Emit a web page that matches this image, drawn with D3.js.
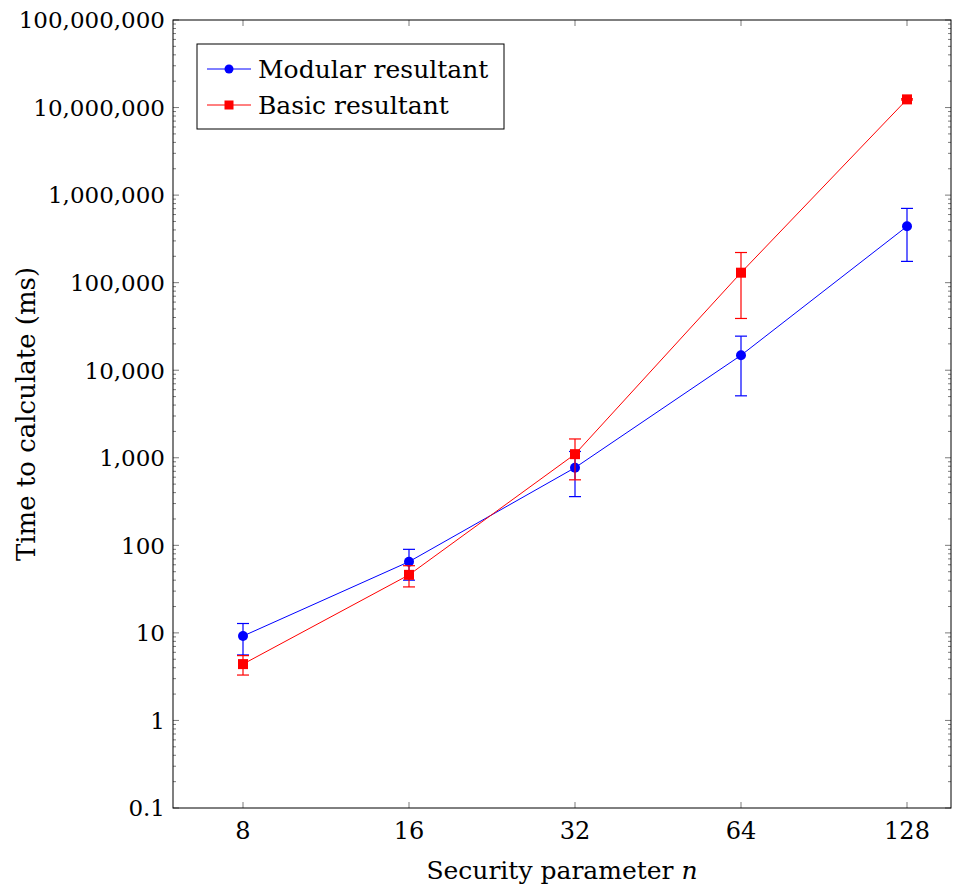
<html>
<head>
<style>
  body { margin: 0; background: #fff; }
  text { font-family: "DejaVu Serif", serif; }
</style>
<script src="https://d3js.org/d3.v7.min.js"></script>
</head>
<body>
<svg width="954" height="888"></svg>
<script>
// values
const nValues = [8, 16, 32, 64, 128];
const modularMean = [9.2, 65, 770, 14800, 440000];
const modularErr = [3.6, 25, 410, 9700, 265000];
const basicMean = [4.4, 46, 1100, 130000, 12400000];
const basicErr = [1.1, 12.5, 540, 91000, 200000];
const yTicks = [0.1, 1, 10, 100, 1000, 10000, 100000, 1000000, 10000000, 100000000];

const plotL = 173, plotR = 951, plotT = 20, plotB = 808;

const svg = d3.select("svg");

// x is log2, with a bit of padding round 8 .. 128
const x = d3.scaleLog().base(2)
    .domain([8 / Math.pow(2, 70 / 166), 128 * Math.pow(2, 44 / 166)])
    .range([plotL, plotR]);

const y = d3.scaleLog()
    .domain([0.1, 1e8])
    .range([plotB, plotT]);

const fmt = d3.format(",");

// minor ticks for log y
let minor = [];
for (let e = -1; e < 8; e++) {
    for (let k = 2; k <= 9; k++) minor.push(k * Math.pow(10, e));
}

const ticks = svg.append("g").attr("stroke", "#444").attr("stroke-width", 0.7);
ticks.selectAll(".ymaj").data(yTicks).join("g")
    .call(g => g.append("line").attr("x1", plotL).attr("x2", plotL + 6).attr("y1", d => y(d)).attr("y2", d => y(d)))
    .call(g => g.append("line").attr("x1", plotR).attr("x2", plotR - 6).attr("y1", d => y(d)).attr("y2", d => y(d)));
ticks.selectAll(".ymin").data(minor).join("g")
    .call(g => g.append("line").attr("x1", plotL).attr("x2", plotL + 3).attr("y1", d => y(d)).attr("y2", d => y(d)))
    .call(g => g.append("line").attr("x1", plotR).attr("x2", plotR - 3).attr("y1", d => y(d)).attr("y2", d => y(d)));
ticks.selectAll(".xmaj").data(nValues).join("g")
    .call(g => g.append("line").attr("x1", d => x(d)).attr("x2", d => x(d)).attr("y1", plotB).attr("y2", plotB - 6))
    .call(g => g.append("line").attr("x1", d => x(d)).attr("x2", d => x(d)).attr("y1", plotT).attr("y2", plotT + 6));

// frame
svg.append("rect")
    .attr("x", plotL).attr("y", plotT)
    .attr("width", plotR - plotL).attr("height", plotB - plotT)
    .attr("fill", "none").attr("stroke", "#000").attr("stroke-width", 1);

// tick labels
svg.append("g").selectAll("text").data(yTicks).join("text")
    .attr("x", plotL - 8)
    .attr("y", d => y(d))
    .attr("dy", "0.36em")
    .attr("text-anchor", "end")
    .attr("font-size", 23)
    .text(d => fmt(d));

svg.append("g").selectAll("text").data(nValues).join("text")
    .attr("x", d => x(d))
    .attr("y", plotB + 31)
    .attr("text-anchor", "middle")
    .attr("font-size", 24)
    .text(d => d);

// axis titles
const xt = svg.append("text")
    .attr("x", (plotL + plotR) / 2)
    .attr("y", 879)
    .attr("text-anchor", "middle")
    .attr("font-size", 25);
xt.append("tspan").text("Security parameter ");
xt.append("tspan").attr("font-style", "italic").text("n");

svg.append("text")
    .attr("transform", `translate(35,${(plotT + plotB) / 2}) rotate(-90)`)
    .attr("text-anchor", "middle")
    .attr("font-size", 26)
    .text("Time to calculate (ms)");

// series
const series = [
    { name: "Modular resultant", color: "#0000ff", mean: modularMean, err: modularErr, shape: "circle" },
    { name: "Basic resultant", color: "#ff0000", mean: basicMean, err: basicErr, shape: "square" }
];

const line = d3.line().x(d => x(d.n)).y(d => y(d.v));

series.forEach(s => {
    const pts = nValues.map((n, i) => ({ n: n, v: s.mean[i], e: s.err[i] }));
    const g = svg.append("g");

    g.append("path")
        .attr("d", line(pts))
        .attr("fill", "none")
        .attr("stroke", s.color)
        .attr("stroke-width", 1);

    const eb = g.append("g").attr("stroke", s.color).attr("stroke-width", 1.2);
    eb.selectAll(".v").data(pts).join("line")
        .attr("x1", d => x(d.n)).attr("x2", d => x(d.n))
        .attr("y1", d => y(d.v + d.e)).attr("y2", d => y(Math.max(d.v - d.e, 0.1)));
    eb.selectAll(".t").data(pts).join("line")
        .attr("x1", d => x(d.n) - 6).attr("x2", d => x(d.n) + 6)
        .attr("y1", d => y(d.v + d.e)).attr("y2", d => y(d.v + d.e));
    eb.selectAll(".b").data(pts).join("line")
        .attr("x1", d => x(d.n) - 6).attr("x2", d => x(d.n) + 6)
        .attr("y1", d => y(d.v - d.e)).attr("y2", d => y(d.v - d.e));

    if (s.shape === "circle") {
        g.selectAll(".m").data(pts).join("circle")
            .attr("cx", d => x(d.n)).attr("cy", d => y(d.v))
            .attr("r", 5).attr("fill", s.color);
    } else {
        g.selectAll(".m").data(pts).join("rect")
            .attr("x", d => x(d.n) - 5).attr("y", d => y(d.v) - 5)
            .attr("width", 10).attr("height", 10).attr("fill", s.color);
    }
});

// legend
const lg = svg.append("g");
lg.append("rect")
    .attr("x", 197).attr("y", 44).attr("width", 307).attr("height", 85)
    .attr("fill", "#fff").attr("stroke", "#000").attr("stroke-width", 1);
series.forEach((s, i) => {
    const ly = 69 + i * 36;
    lg.append("line").attr("x1", 207).attr("x2", 251).attr("y1", ly).attr("y2", ly)
        .attr("stroke", s.color).attr("stroke-width", 1);
    if (s.shape === "circle") {
        lg.append("circle").attr("cx", 229).attr("cy", ly).attr("r", 4.5).attr("fill", s.color);
    } else {
        lg.append("rect").attr("x", 224.5).attr("y", ly - 4.5).attr("width", 9).attr("height", 9).attr("fill", s.color);
    }
    lg.append("text").attr("x", 258).attr("y", ly).attr("dy", "0.36em")
        .attr("font-size", 25).text(s.name);
});
</script>
</body>
</html>
